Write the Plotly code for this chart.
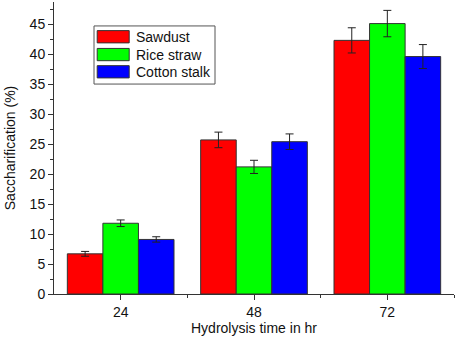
import plotly.graph_objects as go

categories = ["24", "48", "72"]
series_names = ["Sawdust", "Rice straw", "Cotton stalk"]
sawdust = [6.7, 25.7, 42.3]
sawdust_err = [0.4, 1.3, 2.1]
rice_straw = [11.8, 21.2, 45.1]
rice_straw_err = [0.55, 1.1, 2.2]
cotton_stalk = [9.1, 25.4, 39.6]
cotton_stalk_err = [0.45, 1.3, 2.0]
colors = ["#ff0000", "#00ff00", "#0000ff"]

xpos = list(range(len(categories)))
fig = go.Figure()
for name, vals, errs, c in zip(series_names, [sawdust, rice_straw, cotton_stalk],
                               [sawdust_err, rice_straw_err, cotton_stalk_err], colors):
    fig.add_trace(go.Bar(
        x=xpos, y=vals, name=name, showlegend=False,
        marker=dict(color=c, line=dict(color="#333333", width=1)),
        error_y=dict(type="data", array=errs, color="#222222", thickness=1, width=4),
    ))

# Legend drawn as a boxed key (wide swatches as in the original)
fig.add_shape(type="rect", xref="paper", yref="paper", x0=0.1, x1=0.4025, y0=0.719, y1=0.918,
              line=dict(color="#555555", width=1), fillcolor="white", layer="above")
sw_y = [(0.860, 0.902), (0.799, 0.841), (0.740, 0.782)]
for (y0, y1), name, c in zip(sw_y, series_names, colors):
    fig.add_shape(type="rect", xref="paper", yref="paper", x0=0.108, x1=0.188, y0=y0, y1=y1,
                  line=dict(color="#333333", width=1), fillcolor=c, layer="above")
    fig.add_annotation(xref="paper", yref="paper", x=0.200, y=(y0 + y1) / 2, text=name,
                       showarrow=False, xanchor="left", yanchor="middle",
                       font=dict(family="Liberation Sans, Arial", size=14, color="#111111"))

FONT = "Liberation Sans, Arial"
axis_common = dict(showline=True, linecolor="#333333", linewidth=1, ticks="outside",
                   tickcolor="#333333", showgrid=False, zeroline=False,
                   tickfont=dict(family=FONT, size=14, color="#111111"))
fig.update_layout(
    width=456, height=337,
    margin=dict(l=54, r=2, t=2, b=43),
    plot_bgcolor="white", paper_bgcolor="white",
    barmode="group", bargap=0.2, bargroupgap=0,
    font=dict(family=FONT, size=14, color="#111111"),
    xaxis=dict(range=[-0.5, 2.5], tickvals=xpos, ticktext=categories, ticklen=5,
               minor=dict(tickvals=[0.5, 1.5, 2.5], ticklen=3, ticks="outside", tickcolor="#333333"),
               title=dict(text="Hydrolysis time in hr", standoff=2,
                          font=dict(family=FONT, size=14, color="#111111")), **axis_common),
    yaxis=dict(range=[0, 48.7], dtick=5, tick0=0, ticklen=5,
               minor=dict(dtick=2.5, ticklen=3, ticks="outside", tickcolor="#333333"),
               title=dict(text="Saccharification (%)", standoff=10,
                          font=dict(family=FONT, size=14, color="#111111")), **axis_common),
)
fig.write_html("out.html", config={"displayModeBar": False},
               post_script="document.body.style.margin='0';")
